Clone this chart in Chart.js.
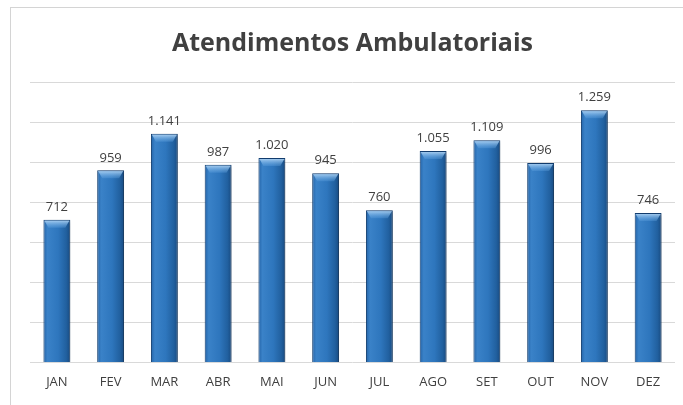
<!DOCTYPE html>
<html>
<head>
<meta charset="utf-8">
<script src="https://cdn.jsdelivr.net/npm/chart.js@4/dist/chart.umd.min.js"></script>
<style>
  html, body { margin: 0; padding: 0; background: #fff; overflow: hidden; }
  #wrap { position: relative; width: 683px; height: 405px; }
  #frame { position: absolute; left: 10px; top: 7px; width: 700px; height: 420px;
           border-left: 1px solid #d4d4d4; border-top: 1px solid #d4d4d4; }
  canvas { position: absolute; left: 0; top: 0; }
</style>
</head>
<body>
<div id="wrap">
  <div id="frame"></div>
  <canvas id="chart" width="683" height="405"></canvas>
</div>
<script>
var meses = ["JAN", "FEV", "MAR", "ABR", "MAI", "JUN", "JUL", "AGO", "SET", "OUT", "NOV", "DEZ"];
var atendimentos = [712, 959, 1141, 987, 1020, 945, 760, 1055, 1109, 996, 1259, 746];

function formata(v) {
  return String(v).replace(/\B(?=(\d{3})+(?!\d))/g, '.');
}

// gradiente horizontal por barra (borda escura, centro claro)
function corBarra(c) {
  var sx = c.chart.scales.x;
  if (!sx || !c.chart.chartArea) return '#2a70b8';
  var cx = sx.getPixelForValue(c.dataIndex);
  var w = sx.width / meses.length * 0.5;
  var g = c.chart.ctx.createLinearGradient(cx - w / 2, 0, cx + w / 2, 0);
  g.addColorStop(0, '#2464a8');
  g.addColorStop(0.15, '#3a82c8');
  g.addColorStop(0.55, '#2e76bd');
  g.addColorStop(0.85, '#21609f');
  g.addColorStop(1, '#184a80');
  return g;
}

var rotulos = {
  id: 'rotulos',
  afterDatasetsDraw: function (chart) {
    var ctx = chart.ctx;
    var meta = chart.getDatasetMeta(0);
    ctx.save();
    ctx.font = '13px "Open Sans", sans-serif';
    ctx.textAlign = 'center';
    ctx.textBaseline = 'bottom';
    meta.data.forEach(function (bar, i) {
      // topo chanfrado claro
      var w = bar.width;
      var g = ctx.createLinearGradient(0, bar.y, 0, bar.y + 9);
      g.addColorStop(0, '#b4d6f4');
      g.addColorStop(1, 'rgba(90,160,225,0.2)');
      ctx.fillStyle = g;
      ctx.beginPath();
      ctx.moveTo(bar.x - w / 2 + 1, bar.y + 1);
      ctx.lineTo(bar.x + w / 2 - 1, bar.y + 1);
      ctx.lineTo(bar.x + w / 2 - 5, bar.y + 8);
      ctx.lineTo(bar.x - w / 2 + 5, bar.y + 8);
      ctx.closePath();
      ctx.fill();
      ctx.fillStyle = '#404040';
      ctx.fillText(formata(atendimentos[i]), bar.x, bar.y - 6);
    });
    ctx.restore();
  }
};

var sombra = {
  id: 'sombra',
  beforeDatasetsDraw: function (chart) {
    var ctx = chart.ctx;
    ctx.save();
    ctx.shadowColor = 'rgba(0,0,0,0.25)';
    ctx.shadowBlur = 4;
    ctx.shadowOffsetX = 2;
    ctx.shadowOffsetY = 1;
  },
  afterDatasetsDraw: function (chart) {
    chart.ctx.restore();
  }
};

var ctx = document.getElementById('chart').getContext('2d');
var chart = new Chart(ctx, {
  type: 'bar',
  data: {
    labels: meses,
    datasets: [{
      label: 'Atendimentos',
      data: atendimentos,
      backgroundColor: corBarra,
      borderColor: '#123f73',
      borderWidth: 1,
      barPercentage: 0.5,
      categoryPercentage: 1
    }]
  },
  options: {
    responsive: false,
    animation: false,
    layout: { padding: { left: 30, right: 8, top: 0, bottom: 3 } },
    plugins: {
      legend: { display: false },
      tooltip: { enabled: false },
      title: {
        display: true,
        text: 'Atendimentos Ambulatoriais',
        color: '#404040',
        font: { family: '"Open Sans", sans-serif', size: 25, weight: 'bold' },
        padding: { top: 29, bottom: 23 }
      }
    },
    scales: {
      x: {
        grid: { display: false, drawTicks: false },
        border: { display: false },
        ticks: { color: '#404040', font: { family: '"Open Sans", sans-serif', size: 13 }, padding: 12 }
      },
      y: {
        min: 0,
        max: 1400,
        ticks: { stepSize: 200, display: false },
        grid: { color: '#d9d9d9', drawTicks: false },
        border: { display: false }
      }
    }
  },
  plugins: [sombra, rotulos]
});
</script>
</body>
</html>
